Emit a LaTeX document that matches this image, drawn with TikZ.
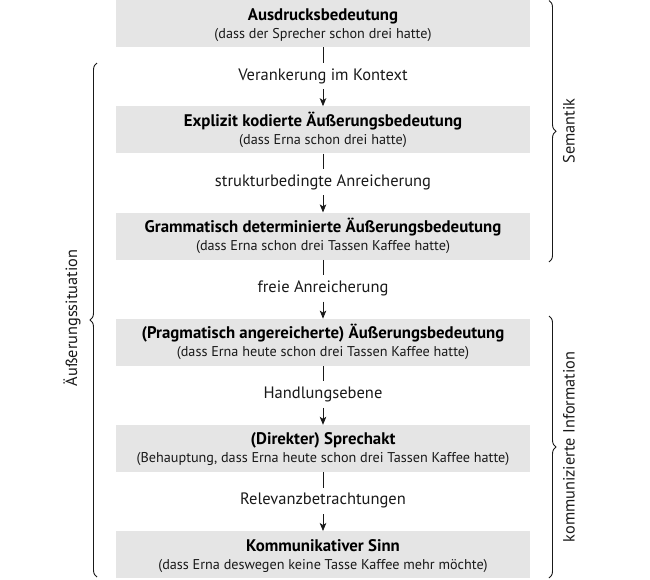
\documentclass[tikz,border=0pt]{standalone}
\usepackage{fontspec}
\setmainfont{PT Sans}
\usetikzlibrary{arrows.meta,decorations.pathreplacing}
\definecolor{boxgray}{RGB}{229,229,229}
\definecolor{ink}{RGB}{25,25,25}
\begin{document}
\begin{tikzpicture}[x=1pt,y=-1pt,
  stage/.style={fill=boxgray, draw=none, minimum width=414pt, minimum height=47pt, inner sep=0pt, anchor=north},
  title/.style={anchor=base, inner sep=0pt, text=black, font=\fontsize{16.8}{18}\selectfont\bfseries},
  sub/.style={anchor=base, inner sep=0pt, text=ink, font=\fontsize{14.2}{18}\selectfont},
  step label/.style={anchor=base, inner xsep=2pt, inner ysep=5pt, text height=12pt, text depth=4pt, text=ink, font=\fontsize{16.5}{19}\selectfont},
  side/.style={rotate=90, inner sep=0pt, text=ink, font=\fontsize{16.3}{19}\selectfont},
  link/.style={draw=ink, line width=0.8pt},
  arr/.style={draw=ink, line width=0.8pt, -{Stealth[length=8pt,width=6.5pt,inset=2pt]}},
  curly/.style={draw=ink, line width=0.9pt, decorate, decoration={brace, amplitude=7pt}}
]
\useasboundingbox (0,0) rectangle (650,579);
% boxes
\node[stage] (b1) at (323,0) {};
\node[stage] (b2) at (323,106.2) {};
\node[stage] (b3) at (323,212.4) {};
\node[stage] (b4) at (323,318.6) {};
\node[stage] (b5) at (323,424.8) {};
\node[stage] (b6) at (323,531) {};
% box texts
\node[title] (t1) at (323,20) {Ausdrucksbedeutung};
\node[sub] (s1) at (323,38) {(dass der Sprecher schon drei hatte)};
\node[title] (t2) at (323,126.2) {Explizit kodierte Äußerungsbedeutung};
\node[sub] (s2) at (323,144.2) {(dass Erna schon drei hatte)};
\node[title] (t3) at (323,232.4) {Grammatisch determinierte Äußerungsbedeutung};
\node[sub] (s3) at (323,250.4) {(dass Erna schon drei Tassen Kaffee hatte)};
\node[title] (t4) at (323,338.6) {(Pragmatisch angereicherte) Äußerungsbedeutung};
\node[sub] (s4) at (323,356.6) {(dass Erna heute schon drei Tassen Kaffee hatte)};
\node[title] (t5) at (323,444.8) {(Direkter) Sprechakt};
\node[sub] (s5) at (323,462.8) {(Behauptung, dass Erna heute schon drei Tassen Kaffee hatte)};
\node[title] (t6) at (323,551) {Kommunikativer Sinn};
\node[sub] (s6) at (323,569) {(dass Erna deswegen keine Tasse Kaffee mehr möchte)};
% step labels
\node[step label] (l1) at (323,80) {Verankerung im Kontext};
\node[step label] (l2) at (323,186.2) {strukturbedingte Anreicherung};
\node[step label] (l3) at (323,292.4) {freie Anreicherung};
\node[step label] (l4) at (323,398.6) {Handlungsebene};
\node[step label] (l5) at (323,504.8) {Relevanzbetrachtungen};
% connectors
\draw[link] (b1.south) -- (l1.north);
\draw[arr] (l1.south) -- (b2.north);
\draw[link] (b2.south) -- (l2.north);
\draw[arr] (l2.south) -- (b3.north);
\draw[link] (b3.south) -- (l3.north);
\draw[arr] (l3.south) -- (b4.north);
\draw[link] (b4.south) -- (l4.north);
\draw[arr] (l4.south) -- (b5.north);
\draw[link] (b5.south) -- (l5.north);
\draw[arr] (l5.south) -- (b6.north);
% braces
\coordinate (lbB) at (97,577);
\coordinate (lbT) at (97,63);
\draw[curly] (lbB) -- (lbT);
\coordinate (sbT) at (549,0.5);
\coordinate (sbB) at (549,262);
\draw[curly] (sbT) -- (sbB);
\coordinate (kbT) at (549,316);
\coordinate (kbB) at (549,578);
\draw[curly] (kbT) -- (kbB);
% side labels
\node[side] (sl) at (72,318) {Äußerungssituation};
\node[side] (sr1) at (569,131) {Semantik};
\node[side] (sr2) at (569,447) {kommunizierte Information};
\end{tikzpicture}
\end{document}
